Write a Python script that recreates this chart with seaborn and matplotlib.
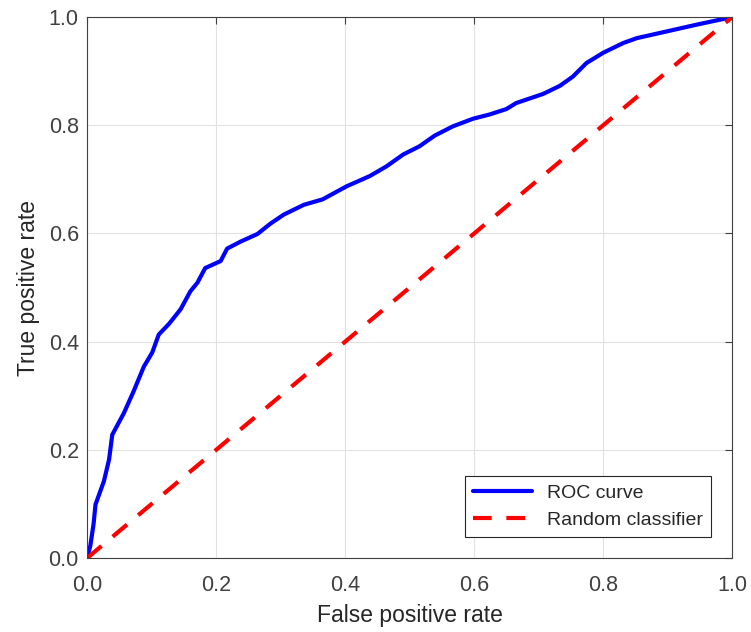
"""
Curva ROC estilo MATLAB con seaborn.
"""

import numpy as np
import pandas as pd
import matplotlib
matplotlib.use("Agg")
import matplotlib.pyplot as plt
import seaborn as sns

# Datos
fpr = [0.0, 0.005, 0.010, 0.013, 0.026, 0.034, 0.039, 0.057, 0.072, 0.088,
       0.101, 0.111, 0.127, 0.145, 0.160, 0.171, 0.183, 0.207, 0.217, 0.238,
       0.264, 0.284, 0.305, 0.336, 0.365, 0.402, 0.438, 0.464, 0.490, 0.515,
       0.539, 0.567, 0.598, 0.624, 0.650, 0.665, 0.707, 0.733, 0.753, 0.774,
       0.800, 0.831, 0.852, 0.893, 0.945, 1.0]
tpr = [0.0, 0.023, 0.063, 0.099, 0.142, 0.182, 0.228, 0.268, 0.308, 0.354,
       0.380, 0.413, 0.433, 0.460, 0.493, 0.509, 0.536, 0.549, 0.572, 0.585,
       0.599, 0.618, 0.635, 0.653, 0.663, 0.687, 0.706, 0.724, 0.746, 0.761,
       0.781, 0.798, 0.812, 0.820, 0.830, 0.841, 0.858, 0.873, 0.890, 0.915,
       0.934, 0.952, 0.961, 0.972, 0.986, 1.0]
rand_x = [0.0, 1.0]
rand_y = [0.0, 1.0]
ticks = [0.0, 0.2, 0.4, 0.6, 0.8, 1.0]

sns.set_theme(style="whitegrid")
plt.rcParams["font.family"] = ["Liberation Sans", "DejaVu Sans"]

roc = pd.DataFrame({"fpr": fpr, "tpr": tpr})
rnd = pd.DataFrame({"fpr": rand_x, "tpr": rand_y})

fig = plt.figure(figsize=(7.51, 6.32), dpi=100)
ax = fig.add_axes([0.116, 0.117, 0.859, 0.856])

sns.lineplot(data=roc, x="fpr", y="tpr", ax=ax, color="#0000ff", lw=3,
             label="ROC curve", estimator=None, sort=False)
sns.lineplot(data=rnd, x="fpr", y="tpr", ax=ax, color="#ff0000", lw=3,
             label="Random classifier", estimator=None)
ax.lines[1].set_dashes((4.5, 3.5))

ax.set_xlim(0, 1)
ax.set_ylim(0, 1)
ax.set_xticks(ticks)
ax.set_yticks(ticks)
ax.set_xticklabels([f"{t:.1f}" for t in ticks])
ax.set_yticklabels([f"{t:.1f}" for t in ticks])
ax.set_xlabel("False positive rate", fontsize=16.5, color="#262626", labelpad=6)
ax.set_ylabel("True positive rate", fontsize=16.5, color="#262626", labelpad=6)
ax.tick_params(direction="in", length=5, width=0.8, color="#404040",
               labelcolor="#404040", labelsize=15.5, top=True, right=True)
ax.tick_params(axis="x", pad=12)
ax.tick_params(axis="y", pad=6)
ax.grid(True, color="#e2e2e2", lw=0.8)
for s in ax.spines.values():
    s.set_color("#404040")
    s.set_linewidth(0.8)

leg = ax.legend(loc="lower right", fontsize=14, frameon=True, fancybox=False,
                handlelength=3.0, borderaxespad=1.1, edgecolor="#262626",
                framealpha=1)
leg.get_frame().set_linewidth(0.8)

fig.savefig("out.png", dpi=100)
plt.close(fig)
